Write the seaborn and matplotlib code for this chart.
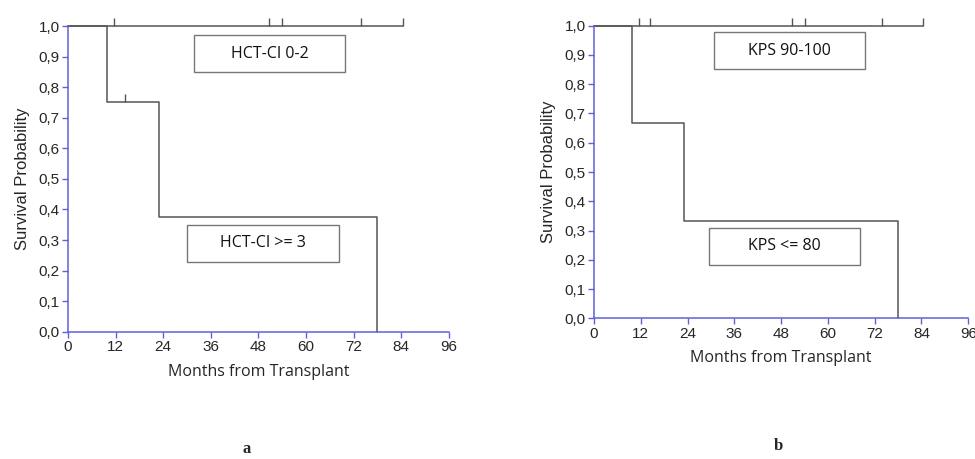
import numpy as np
import pandas as pd
import matplotlib
matplotlib.use("Agg")
import matplotlib.pyplot as plt
from matplotlib.path import Path
from matplotlib.patches import Rectangle
import seaborn as sns

# --- data ---
# panel a: HCT-CI
hct_low_t = [0, 9.8, 22.9, 77.9]
hct_low_s = [1.0, 0.75, 0.375, 0.0]
hct_low_cens_t = [14.4]
hct_low_cens_s = [0.75]
hct_hi_t = [0, 84.4]
hct_hi_s = [1.0, 1.0]
hct_hi_cens_t = [11.6, 50.6, 54.0, 73.9, 84.4]

# panel b: KPS
kps_low_t = [0, 9.8, 23.0, 77.9]
kps_low_s = [1.0, 0.667, 0.333, 0.0]
kps_hi_t = [0, 84.4]
kps_hi_s = [1.0, 1.0]
kps_hi_cens_t = [11.6, 14.4, 50.7, 54.1, 73.9, 84.4]

x_ticks = [0, 12, 24, 36, 48, 60, 72, 84, 96]
y_ticks = [0.0, 0.1, 0.2, 0.3, 0.4, 0.5, 0.6, 0.7, 0.8, 0.9, 1.0]
y_tick_labels = ['0,0', '0,1', '0,2', '0,3', '0,4', '0,5', '0,6', '0,7', '0,8', '0,9', '1,0']

sns.set_style("white")
plt.rcParams['font.family'] = ['Liberation Sans', 'DejaVu Sans']

line_col = '#555555'
spine_col = '#6060d8'
# censor tick: short vertical stroke going up from the curve
tick_mark = Path([(0, 0), (0, 1)], [Path.MOVETO, Path.LINETO])

fig = plt.figure(figsize=(9.75, 4.59), dpi=100)
ax1 = fig.add_axes([0.0697, 0.2773, 0.3908, 0.666])
ax2 = fig.add_axes([0.6092, 0.3065, 0.3839, 0.6375])


def km_panel(ax, curves, censors, boxes):
    for t, s in curves:
        df = pd.DataFrame({'t': t, 's': s})
        sns.lineplot(data=df, x='t', y='s', ax=ax, drawstyle='steps-post',
                     color=line_col, lw=1.1, clip_on=False)
    for ct, cs in censors:
        ax.plot(ct, cs, linestyle='none', marker=tick_mark, ms=12,
                mec=line_col, mew=1.0, clip_on=False)
    for (x0, y0, w, h, label) in boxes:
        ax.add_patch(Rectangle((x0, y0), w, h, fill=False, ec='#777777', lw=1.0))
        ax.text(x0 + w / 2, y0 + h / 2, label, ha='center', va='center',
                fontsize=11.5, color='#111111', family=['Open Sans', 'DejaVu Sans'])
    ax.set_xlim(0, 96)
    ax.set_ylim(0, 1)
    ax.set_xticks(x_ticks)
    ax.set_yticks(y_ticks)
    ax.set_yticklabels(y_tick_labels)
    ax.tick_params(axis='both', which='major', direction='out', length=4,
                   width=1, color=spine_col, labelsize=11, pad=2, left=True, bottom=True)
    for side in ['top', 'right']:
        ax.spines[side].set_visible(False)
    for side in ['left', 'bottom']:
        ax.spines[side].set_color(spine_col)
        ax.spines[side].set_linewidth(1.1)
    ax.set_xlabel('Months from Transplant', fontsize=11.5,
                  family=['Open Sans', 'DejaVu Sans'], labelpad=7)
    ax.set_ylabel('Survival Probability', fontsize=12, labelpad=6)


km_panel(ax1,
         [(hct_low_t, hct_low_s), (hct_hi_t, hct_hi_s)],
         [(hct_low_cens_t, hct_low_cens_s), (hct_hi_cens_t, [1.0] * len(hct_hi_cens_t))],
         [(31.8, 0.85, 38.0, 0.12, 'HCT-CI 0-2'),
          (30.1, 0.229, 38.2, 0.12, 'HCT-CI >= 3')])
km_panel(ax2,
         [(kps_low_t, kps_low_s), (kps_hi_t, kps_hi_s)],
         [(kps_hi_cens_t, [1.0] * len(kps_hi_cens_t))],
         [(30.9, 0.852, 38.6, 0.125, 'KPS 90-100'),
          (29.6, 0.182, 38.6, 0.127, 'KPS <= 80')])

fig.text(247 / 975, 1 - 449 / 459, 'a', ha='center', va='center',
         fontsize=12, fontweight='bold', family=['Liberation Serif', 'DejaVu Serif'])
fig.text(778 / 975, 1 - 446 / 459, 'b', ha='center', va='center',
         fontsize=12, fontweight='bold', family=['Liberation Serif', 'DejaVu Serif'])

fig.savefig('out.png', dpi=100)
